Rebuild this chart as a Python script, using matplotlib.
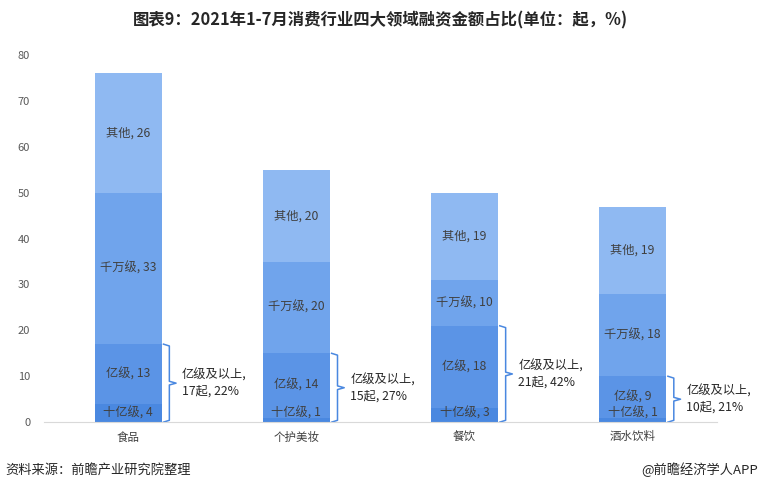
import matplotlib.pyplot as plt

plt.rcParams['font.family'] = ['Noto Sans CJK SC', 'DejaVu Sans']

categories = ["食品", "个护美妆", "餐饮", "酒水饮料"]
levels = ["十亿级", "亿级", "千万级", "其他"]
shiyi = [4, 1, 3, 1]
yi = [13, 14, 18, 9]
qianwan = [33, 20, 10, 18]
qita = [26, 20, 19, 19]
above_count = [17, 15, 21, 10]
above_pct = [22, 27, 42, 21]

colors = ["#4a88e0", "#5b94e6", "#70a4ec", "#8fb9f2"]
series = [shiyi, yi, qianwan, qita]

fig = plt.figure(figsize=(7.6, 4.92), dpi=100)
ax = fig.add_axes([0.058, 0.142, 0.885, 0.746])

x = list(range(len(categories)))
width = 0.4
bottoms = [0] * len(categories)
for k, (name, vals, c) in enumerate(zip(levels, series, colors)):
    ax.bar(x, vals, width, bottom=bottoms, color=c, edgecolor="none")
    for i, v in enumerate(vals):
        yc = bottoms[i] + v / 2
        if k == 0:
            yc = max(yc, 1.9)
        ax.text(i, yc, f"{name}, {v}", ha="center", va="center",
                fontsize=8.8, color="#404040")
    bottoms = [b + v for b, v in zip(bottoms, vals)]

# brackets for 亿级及以上
for i in x:
    top = shiyi[i] + yi[i]
    mid = top / 2
    x0 = i + width / 2 + 0.01
    x1 = i + width / 2 + 0.045
    x2 = i + width / 2 + 0.085
    bx = [x0, x1, x1, x2, x1, x1, x0]
    by = [0, 0.4, mid - 0.4, mid, mid + 0.4, top - 0.4, top]
    ax.plot(bx, by, color="#4a88e0", lw=1.1, solid_joinstyle="round")
    ax.text(i + width / 2 + 0.12, mid, f"亿级及以上,\n{above_count[i]}起, {above_pct[i]}%",
            ha="left", va="center", fontsize=8.8, color="#262626", linespacing=1.3)

ax.set_xlim(-0.5, 3.5)
ax.set_ylim(0, 80)
ax.set_xticks(x)
ax.set_xticklabels(categories, fontsize=8.3, color="#404040")
ax.set_yticks(range(0, 81, 10))
ax.tick_params(axis="y", length=0, labelsize=8, labelcolor="#595959", pad=10)
ax.tick_params(axis="x", length=0, pad=6)
for s in ["top", "right", "left"]:
    ax.spines[s].set_visible(False)
ax.spines["bottom"].set_color("#d9d9d9")

fig.text(0.5, 0.958, "图表9：2021年1-7月消费行业四大领域融资金额占比(单位：起，%)",
         ha="center", va="center", fontsize=11.8, fontweight="bold", color="#262626")
fig.text(0.007, 0.045, "资料来源：前瞻产业研究院整理", ha="left", va="center",
         fontsize=9.5, color="#262626")
fig.text(0.997, 0.045, "@前瞻经济学人APP", ha="right", va="center",
         fontsize=9.5, color="#262626")

fig.savefig("out.png", dpi=100)
